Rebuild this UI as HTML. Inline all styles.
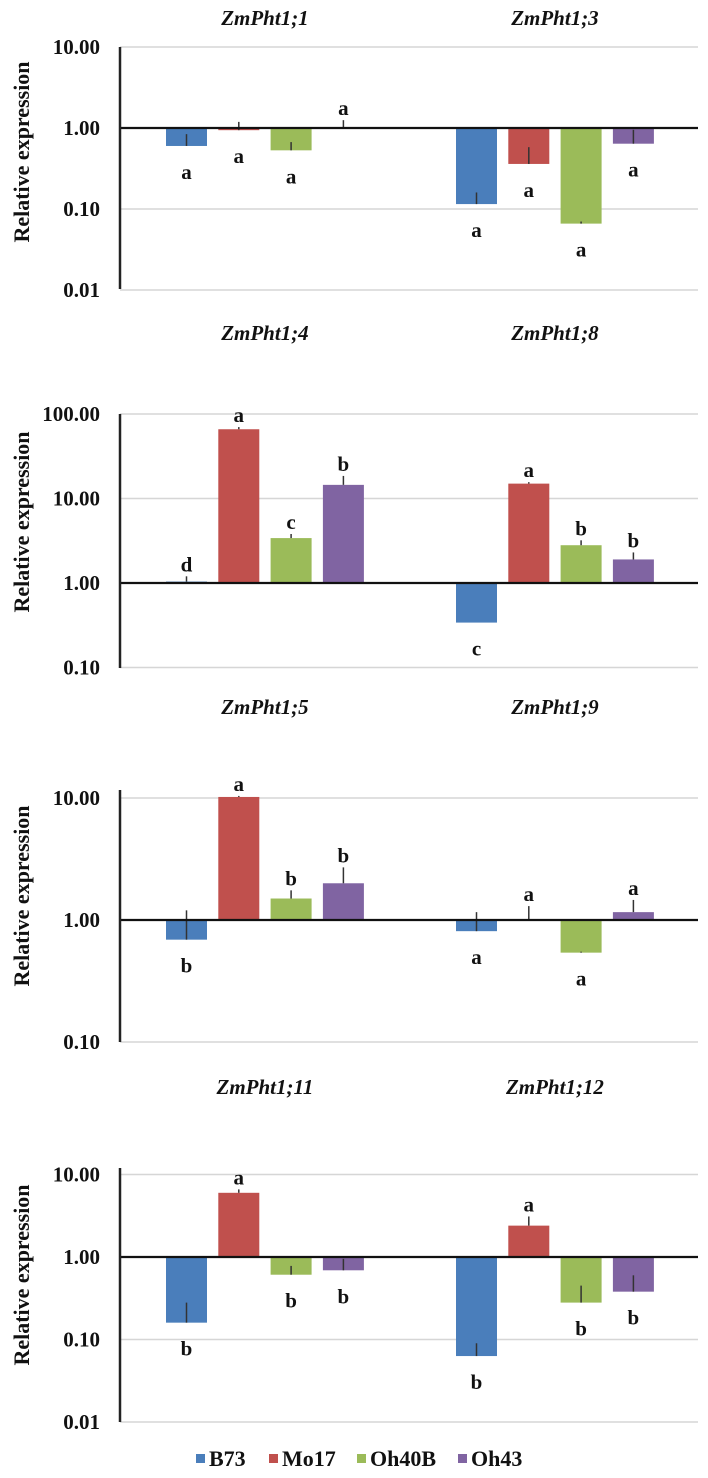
<!DOCTYPE html>
<html><head><meta charset="utf-8"><style>
html,body{margin:0;padding:0;background:#fff;}
svg{display:block;}
text{font-family:"Liberation Serif",serif;font-weight:bold;fill:#111;}
</style></head><body>
<svg id="chart" width="708" height="1478" viewBox="0 0 708 1478" xmlns="http://www.w3.org/2000/svg"></svg>
<script>
const genotypes = ["B73","Mo17","Oh40B","Oh43"];
const colors = ["#4a7ebb","#c0504d","#9bbb59","#8064a2"];
const genes = ["ZmPht1;1","ZmPht1;3","ZmPht1;4","ZmPht1;8","ZmPht1;5","ZmPht1;9","ZmPht1;11","ZmPht1;12"];
const values = [
  [0.60,0.94,0.53,1.0],[0.115,0.36,0.066,0.64],
  [1.04,66,3.4,14.5],[0.34,15,2.8,1.9],
  [0.69,10.2,1.5,2.0],[0.81,1.0,0.54,1.16],
  [0.16,6.0,0.61,0.69],[0.063,2.4,0.28,0.38]
];
const errTops = [
  [0.84,1.19,0.67,1.25],[0.16,0.58,0.07,0.95],
  [1.2,70,3.8,18.5],[0.34,15.6,3.2,2.3],
  [1.2,10.4,1.75,2.7],[1.16,1.3,0.55,1.46],
  [0.28,6.6,0.78,0.95],[0.09,3.1,0.45,0.6]
];
const letters = [
  ["a","a","a","a"],["a","a","a","a"],
  ["d","a","c","b"],["c","a","b","b"],
  ["b","a","b","b"],["a","a","a","a"],
  ["b","a","b","b"],["b","a","b","b"]
];
const tickLabels = [
  ["10.00","1.00","0.10","0.01"],
  ["100.00","10.00","1.00","0.10"],
  ["10.00","1.00","0.10"],
  ["10.00","1.00","0.10","0.01"]
];
const tickValues = [[10,1,0.1,0.01],[100,10,1,0.1],[10,1,0.1],[10,1,0.1,0.01]];
const panels = [
  {y1:128, dec:81, top:47, bottom:289, title:25, ytc:152},
  {y1:583, dec:84.5, top:414, bottom:668, title:340, ytc:522},
  {y1:920, dec:122, top:790, bottom:1042, title:714, ytc:896},
  {y1:1257, dec:82.5, top:1168, bottom:1422, title:1094, ytc:1275}
];
const NS="http://www.w3.org/2000/svg";
const svg=document.getElementById("chart");
function mk(tag,attrs,parent){const e=document.createElementNS(NS,tag);for(const k in attrs)e.setAttribute(k,attrs[k]);(parent||svg).appendChild(e);return e;}
const axisX=120, rightX=698, barW=41, step=52.3, groupStart=[186.5,476.5];
panels.forEach((p,pi)=>{
  const g=mk("g",{});
  
  
  const y=v=>p.y1-p.dec*Math.log10(v);
  tickValues[pi].forEach((tv,ti)=>{
    if(tv!==1){const gl=mk("line",{x1:axisX,x2:rightX,y1:y(tv),y2:y(tv),stroke:"#d6d6d6","stroke-width":1.5},g);
      
      }
    const t=mk("text",{x:100,y:y(tv)+7,"text-anchor":"end","font-size":21},g);
    t.textContent=tickLabels[pi][ti];
    
    
  });
  const yt=mk("text",{x:0,y:0,"text-anchor":"middle","font-size":22,transform:`translate(29,${p.ytc}) rotate(-90)`},g);
  yt.textContent="Relative expression";
  
  
  for(let gi=0;gi<2;gi++){
    const idx=pi*2+gi;
    const gc=groupStart[gi]+step*1.5;
    const tt=mk("text",{x:gc,y:p.title,"text-anchor":"middle","font-size":21,"font-style":"italic"},g);
    tt.textContent=genes[idx];
    
    
    values[idx].forEach((v,si)=>{
      const cx=groupStart[gi]+step*si;
      const yv=y(v), yb=p.y1;
      const r=mk("rect",{x:cx-barW/2,y:Math.min(yv,yb),width:barW,height:Math.max(Math.abs(yv-yb),1),fill:colors[si]},g);
      
      
      const ey=y(errTops[idx][si]);
      const e=mk("line",{x1:cx,x2:cx,y1:yv,y2:ey,stroke:"#333","stroke-width":1.5},g);
      
      
      const above=v>=1;
      const ly=above?Math.min(ey,yv)-5:yv+33;
      const lt=mk("text",{x:cx,y:ly,"text-anchor":"middle","font-size":21},g);
      lt.textContent=letters[idx][si];
      
      
    });
  }
  const base=mk("line",{x1:axisX,x2:rightX,y1:p.y1,y2:p.y1,stroke:"#111","stroke-width":2.2},g);
  
  
  const ax=mk("line",{x1:axisX,x2:axisX,y1:p.top,y2:p.bottom,stroke:"#222","stroke-width":2.5},g);
  
  
});
const legX=[196,269,357,458];
genotypes.forEach((n,i)=>{
  const lg=mk("g",{});
  
  
  mk("rect",{x:legX[i],y:1454,width:9,height:9,fill:colors[i]},lg);
  const t=mk("text",{x:legX[i]+13,y:1466,"font-size":22},lg);
  t.textContent=n;
});
</script>
</body></html>
